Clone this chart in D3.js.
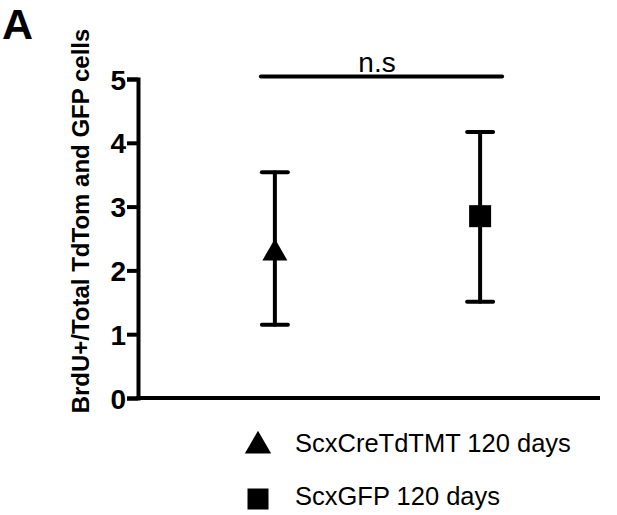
<!DOCTYPE html>
<html>
<head>
<meta charset="utf-8">
<script src="https://cdn.jsdelivr.net/npm/d3@7"></script>
<style>
    body { margin: 0; background: #fff; }
    svg { display: block; font-family: "Liberation Sans", Arial, sans-serif; }
</style>
</head>
<body>
<div id="chart"></div>
<script>
// Data
const groups = ["ScxCreTdTMT 120 days", "ScxGFP 120 days"];
const shapes = ["triangle", "square"];
const means = [2.27, 2.85];
const upper = [3.54, 4.17];
const lower = [1.15, 1.51];
const yTicks = [0, 1, 2, 3, 4, 5];
const sigLevel = 5.04;
const sigLabel = "n.s";
const yLabel = "BrdU+/Total TdTom and GFP cells";
const panelLetter = "A";

{
    const width = 617, height = 515;
    const margin = { top: 79, right: 17, bottom: 117, left: 138 };

    const svg = d3.select("#chart")
        .append("svg")
        .attr("width", width)
        .attr("height", height);

    const y = d3.scaleLinear()
        .domain([0, 5])
        .range([height - margin.bottom, margin.top]);

    const x = d3.scalePoint()
        .domain(groups)
        .range([margin.left, width])
        .padding(0.667);

    const symbolFor = s => s === "triangle" ? d3.symbolTriangle : d3.symbolSquare;
    const data = groups.map((g, i) => ({
        group: g, shape: shapes[i], mean: means[i], hi: upper[i], lo: lower[i]
    }));

    // Y axis
    const yAxis = svg.append("g")
        .attr("transform", `translate(${margin.left},0)`)
        .call(d3.axisLeft(y).tickValues(yTicks).tickSize(11).tickPadding(1).tickFormat(d3.format("d")));
    yAxis.select(".domain").attr("stroke-width", 4).attr("stroke", "#000");
    yAxis.selectAll(".tick line").attr("stroke-width", 4).attr("stroke", "#000");
    yAxis.selectAll(".tick text")
        .attr("font-size", 28)
        .attr("font-weight", "bold")
        .attr("fill", "#000")
        .attr("font-family", "Liberation Sans, Arial, sans-serif")
        .attr("dy", "0.36em");

    // X axis line
    svg.append("line")
        .attr("x1", margin.left - 2)
        .attr("x2", 600)
        .attr("y1", y(0))
        .attr("y2", y(0))
        .attr("stroke", "#000")
        .attr("stroke-width", 4);

    // Y label
    svg.append("text")
        .attr("transform", `translate(89, 221) rotate(-90)`)
        .attr("text-anchor", "middle")
        .attr("font-size", 24)
        .attr("font-weight", "bold")
        .text(yLabel);

    // Panel letter
    svg.append("text")
        .attr("x", 2)
        .attr("y", 39)
        .attr("font-size", 43)
        .attr("font-weight", "bold")
        .text(panelLetter);

    // Error bars
    const bars = svg.append("g").selectAll("g")
        .data(data)
        .join("g")
        .attr("stroke", "#000")
        .attr("stroke-width", 4)
        .attr("stroke-linecap", "round");

    bars.append("line")
        .attr("x1", d => x(d.group))
        .attr("x2", d => x(d.group))
        .attr("y1", d => y(d.lo))
        .attr("y2", d => y(d.hi));

    ["hi", "lo"].forEach(k => {
        bars.append("line")
            .attr("x1", d => x(d.group) - 13)
            .attr("x2", d => x(d.group) + 13)
            .attr("y1", d => y(d[k]))
            .attr("y2", d => y(d[k]));
    });

    // Mean markers
    svg.append("g").selectAll("path")
        .data(data)
        .join("path")
        .attr("d", d => d3.symbol(symbolFor(d.shape), d.shape === "triangle" ? 270 : 484)())
        .attr("transform", d => `translate(${x(d.group)},${y(d.mean)})`)
        .attr("fill", "#000");

    // Significance bar
    svg.append("line")
        .attr("x1", x(groups[0]) - 14)
        .attr("x2", x(groups[1]) + 22)
        .attr("y1", y(sigLevel))
        .attr("y2", y(sigLevel))
        .attr("stroke", "#000")
        .attr("stroke-width", 4)
        .attr("stroke-linecap", "round");

    svg.append("text")
        .attr("x", 377)
        .attr("y", 72)
        .attr("text-anchor", "middle")
        .attr("font-size", 28)
        .text(sigLabel);

    // Legend
    const legend = svg.append("g").selectAll("g")
        .data(data)
        .join("g")
        .attr("transform", (d, i) => `translate(258, ${446 + i * 53})`);

    legend.append("path")
        .attr("d", d => d3.symbol(symbolFor(d.shape), d.shape === "triangle" ? 300 : 441)())
        .attr("fill", "#000");

    legend.append("text")
        .attr("x", 37)
        .attr("y", 6)
        .attr("font-size", 25.5)
        .text(d => d.group);
}
</script>
</body>
</html>
